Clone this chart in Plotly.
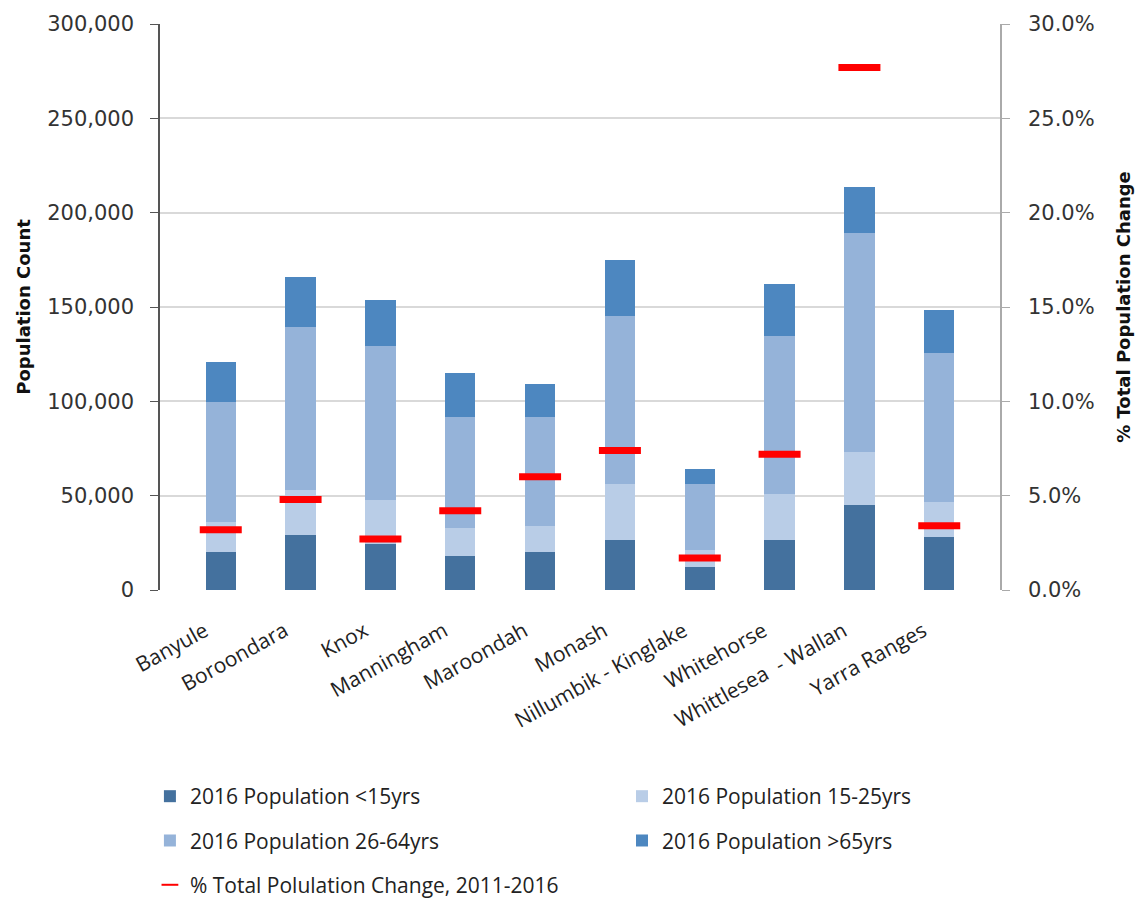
import plotly.graph_objects as go

categories = ["Banyule", "Boroondara", "Knox", "Manningham", "Maroondah", "Monash",
              "Nillumbik - Kinglake", "Whitehorse", "Whittlesea  - Wallan", "Yarra Ranges"]
pop_under15 = [20300, 29000, 24500, 18000, 20300, 26300, 12200, 26300, 45000, 28200]
pop_15_25 = [15900, 24000, 23000, 14700, 13600, 29900, 9200, 24500, 28200, 18300]
pop_26_64 = [63600, 86500, 82000, 58800, 57600, 89200, 34800, 83600, 116200, 79200]
pop_over65 = [21200, 26500, 24000, 23700, 17700, 29500, 8100, 28000, 24100, 22600]
pct_change = [0.032, 0.048, 0.027, 0.042, 0.060, 0.074, 0.017, 0.072, 0.277, 0.034]

names = ["2016 Population <15yrs", "2016 Population 15-25yrs",
         "2016 Population 26-64yrs", "2016 Population >65yrs"]
colors = ["#44719E", "#B9CDE7", "#95B3D9", "#4D87C0"]
series = [pop_under15, pop_15_25, pop_26_64, pop_over65]
legend_ids = ["legend", "legend2", "legend", "legend2"]

fig = go.Figure()
for i, (n, c, s, lg) in enumerate(zip(names, colors, series, legend_ids)):
    fig.add_trace(go.Bar(x=categories, y=s, name=n, legend=lg, legendgroup=f"g{i}",
                         marker=dict(color=c, line=dict(width=0))))

fig.add_trace(go.Scatter(
    x=categories, y=pct_change, name="% Total Polulation Change, 2011-2016",
    mode="markers", yaxis="y2", legend="legend", legendgroup="g4",
    marker=dict(symbol="line-ew", size=30, color="#FF0000",
                line=dict(color="#FF0000", width=7))))

tick_family = "DejaVu Sans, Verdana, sans-serif"
text_family = "Open Sans, Liberation Sans, sans-serif"
legend_common = dict(orientation="v", yanchor="top", yref="container", traceorder="grouped",
                     tracegroupgap=14, font=dict(size=21, family=text_family, color="#222222"),
                     bgcolor="rgba(0,0,0,0)", itemsizing="constant")
fig.update_layout(
    barmode="stack", bargap=0.62,
    width=1148, height=905,
    margin=dict(l=160, r=148, t=24, b=315, autoexpand=False),
    plot_bgcolor="white", paper_bgcolor="white",
    font=dict(family=text_family, color="#262626"),
    showlegend=True,
    legend=dict(x=-0.012, xanchor="left", y=0.1425, **legend_common),
    legend2=dict(x=0.55, xanchor="left", y=0.1425, **legend_common),
    xaxis=dict(tickangle=-29, tickfont=dict(size=21, family=text_family, color="#222222"),
               showline=False, ticks="", showgrid=False,
               ticklabelstandoff=24, ticklabelshift=-16, automargin=False),
    yaxis=dict(range=[0, 300000], dtick=50000, tickformat=",d",
               tickfont=dict(size=21, family=tick_family, color="#333333"),
               title=dict(text="<b>Population Count</b>",
                          font=dict(size=18, family=tick_family, color="#111111"), standoff=12),
               showline=True, linecolor="#555555", linewidth=1.5,
               ticks="outside", ticklen=8, tickcolor="#555555", ticklabelstandoff=12,
               showgrid=True, gridcolor="#D9D9D9", gridwidth=1.5, zeroline=False,
               automargin=False),
    yaxis2=dict(range=[0, 0.3], dtick=0.05, tickformat=".1%", overlaying="y", side="right",
                tickfont=dict(size=21, family=tick_family, color="#333333"),
                title=dict(text="<b>% Total Population Change</b>",
                           font=dict(size=18, family=tick_family, color="#111111"), standoff=24),
                showline=True, linecolor="#AAAAAA", linewidth=1.5,
                ticks="outside", ticklen=8, tickcolor="#AAAAAA", ticklabelstandoff=14,
                showgrid=False, zeroline=False, automargin=False),
)

fig.write_html("out.html")
